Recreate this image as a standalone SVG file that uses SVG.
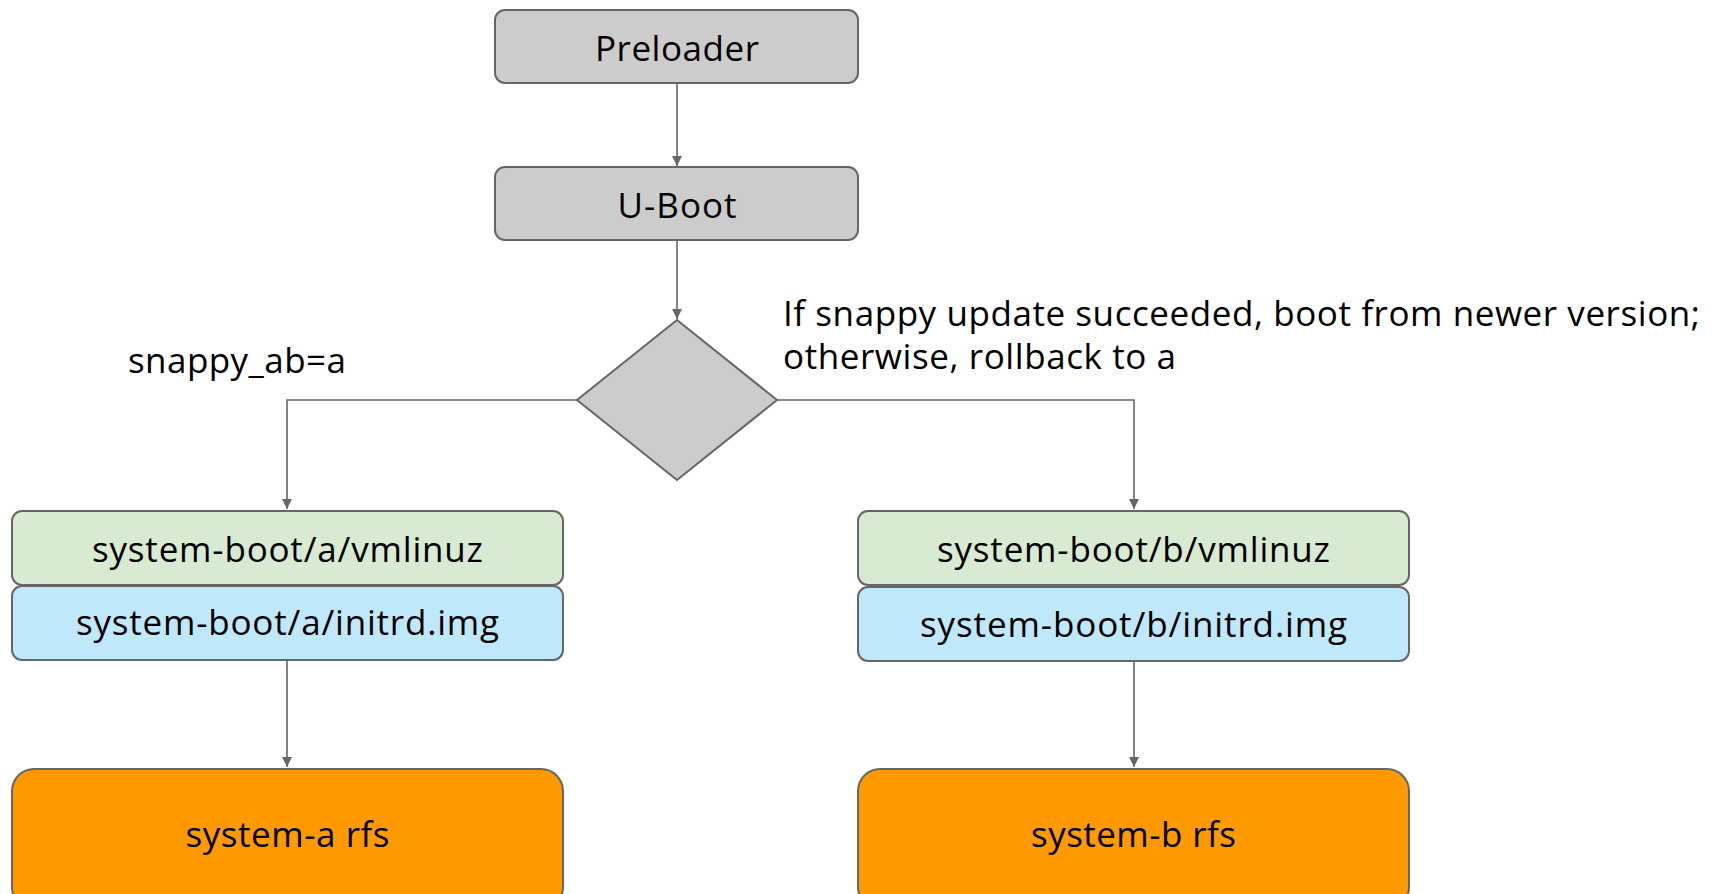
<svg xmlns="http://www.w3.org/2000/svg" width="1721" height="894" viewBox="0 0 1721 894">
<defs>
<style>
.box{stroke:#666666;stroke-width:2}
.gray{fill:#cccccc}
.green{fill:#d9ead3}
.blue{fill:#c0e8fb}
.orange{fill:#ff9900}
.conn{fill:none;stroke:#666666;stroke-width:1.6}
text{font-family:"Open Sans","Liberation Sans",sans-serif;font-size:35px;fill:#000000}
.c{text-anchor:middle}
</style>
<marker id="arr" viewBox="0 0 10 12" refX="10" refY="6" markerWidth="10" markerHeight="12" markerUnits="userSpaceOnUse" orient="auto">
<path d="M0,1 L10,6 L0,11 Z" fill="#666666"/>
</marker>
</defs>
<rect width="1721" height="894" fill="#ffffff"/>
<g id="connectors">
<path class="conn" d="M677,83 V166" marker-end="url(#arr)"/>
<path class="conn" d="M677,240 V319" marker-end="url(#arr)"/>
<path class="conn" d="M577,400 H287 V509" marker-end="url(#arr)"/>
<path class="conn" d="M777,400 H1134 V509" marker-end="url(#arr)"/>
<path class="conn" d="M287,660 V767" marker-end="url(#arr)"/>
<path class="conn" d="M1134,661 V767" marker-end="url(#arr)"/>
</g>
<g id="preloader">
<rect class="box gray" x="495" y="10" width="363" height="73" rx="10"/>
<text class="c" x="677" y="61" font-size="36" textLength="164">Preloader</text>
</g>
<g id="uboot">
<rect class="box gray" x="495" y="167" width="363" height="73" rx="10"/>
<text class="c" x="677" y="218" font-size="36" textLength="119">U-Boot</text>
</g>
<g id="decision">
<polygon class="box gray" points="677,320 777,400 677,480 577,400"/>
</g>
<g id="label-a">
<text x="128" y="373" textLength="218">snappy_ab=a</text>
</g>
<g id="label-b">
<text x="783" y="326" textLength="917">If snappy update succeeded, boot from newer version;</text>
<text x="783" y="369" textLength="393">otherwise, rollback to a</text>
</g>
<g id="vmlinuz-a">
<rect class="box green" x="12" y="511" width="551" height="74" rx="10"/>
<text class="c" x="287.5" y="562" textLength="391">system-boot/a/vmlinuz</text>
</g>
<g id="initrd-a">
<rect class="box blue" x="12" y="586" width="551" height="74" rx="10"/>
<text class="c" x="287.5" y="635" textLength="423">system-boot/a/initrd.img</text>
</g>
<g id="vmlinuz-b">
<rect class="box green" x="858" y="511" width="551" height="74" rx="10"/>
<text class="c" x="1133.5" y="562" textLength="393">system-boot/b/vmlinuz</text>
</g>
<g id="initrd-b">
<rect class="box blue" x="858" y="587" width="551" height="74" rx="10"/>
<text class="c" x="1133.5" y="637" textLength="427">system-boot/b/initrd.img</text>
</g>
<g id="rfs-a">
<rect class="box orange" x="12" y="769" width="551" height="140" rx="22"/>
<text class="c" x="287.5" y="847" textLength="204">system-a rfs</text>
</g>
<g id="rfs-b">
<rect class="box orange" x="858" y="769" width="551" height="140" rx="22"/>
<text class="c" x="1133.5" y="847" textLength="205">system-b rfs</text>
</g>
</svg>
